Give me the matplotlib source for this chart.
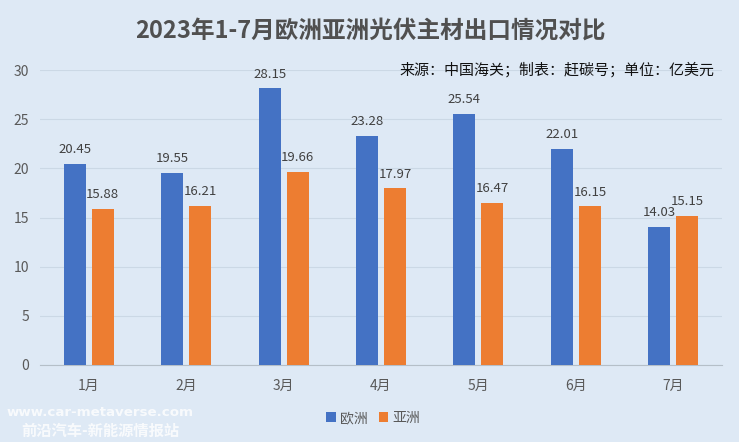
import matplotlib
matplotlib.use("Agg")
import matplotlib.pyplot as plt
import numpy as np

plt.rcParams['font.family'] = ['Noto Sans CJK SC', 'DejaVu Sans']

months = ['1月', '2月', '3月', '4月', '5月', '6月', '7月']
europe = [20.45, 19.55, 28.15, 23.28, 25.54, 22.01, 14.03]
asia = [15.88, 16.21, 19.66, 17.97, 16.47, 16.15, 15.15]
yticks = [0, 5, 10, 15, 20, 25, 30]
title = '2023年1-7月欧洲亚洲光伏主材出口情况对比'
source = '来源：中国海关；制表：赶碳号；单位：亿美元'

W, H = 739, 442
bg = '#DEE9F5'
fig = plt.figure(figsize=(W/100, H/100), dpi=100, facecolor=bg)
ax = fig.add_axes([40/W, 1-365/H, (722-40)/W, (365-70)/H], facecolor=bg)

x = np.arange(len(months))
step = 682/7
bw = 22/step
off = 14/step
b1 = ax.bar(x-off, europe, bw, color='#4472C4', label='欧洲', zorder=3)
b2 = ax.bar(x+off, asia, bw, color='#ED7D31', label='亚洲', zorder=3)
for bars, vals in ((b1, europe), (b2, asia)):
    for r, v in zip(bars, vals):
        ax.annotate(f'{v:.2f}', (r.get_x()+r.get_width()/2, v), xytext=(0, 5.5),
                    textcoords='offset points', ha='center', va='bottom',
                    fontsize=9.5, color='#404040', zorder=4)

ax.set_xlim(-0.5, 6.5)
ax.set_ylim(0, 30)
ax.set_xticks(x, months)
ax.set_yticks(yticks)
ax.tick_params(length=0, labelsize=10, labelcolor='#595959')
ax.tick_params(axis='x', pad=10)
ax.tick_params(axis='y', pad=8)
ax.grid(axis='y', color='#CBD8E5', lw=0.8, zorder=0)
for s in ('top', 'right', 'left'):
    ax.spines[s].set_visible(False)
ax.spines['bottom'].set_color('#B5BFC8')

fig.text(370/W, 1-31/H, title, ha='center', va='center', fontsize=17,
         fontweight='bold', color='#505050')
fig.text(714/W, 1-70/H, source, ha='right', va='center', fontsize=10.8, color='#111111')
fig.legend(handles=[b1, b2], loc='center', bbox_to_anchor=(373/W, 1-418/H), ncol=2,
           frameon=False, fontsize=10, labelcolor='#595959', handlelength=0.7,
           handleheight=0.7, handletextpad=0.3, columnspacing=0.8)
fig.text(100/W, 1-413/H, 'www.car-metaverse.com', ha='center', va='center', fontsize=9.6,
         fontweight='bold', color='white', alpha=0.8, family=['DejaVu Sans'])
fig.text(100/W, 1-431/H, '前沿汽车-新能源情报站', ha='center', va='center', fontsize=11,
         fontweight='bold', color='white', alpha=0.8)
fig.savefig('out.png', dpi=100, facecolor=bg)
